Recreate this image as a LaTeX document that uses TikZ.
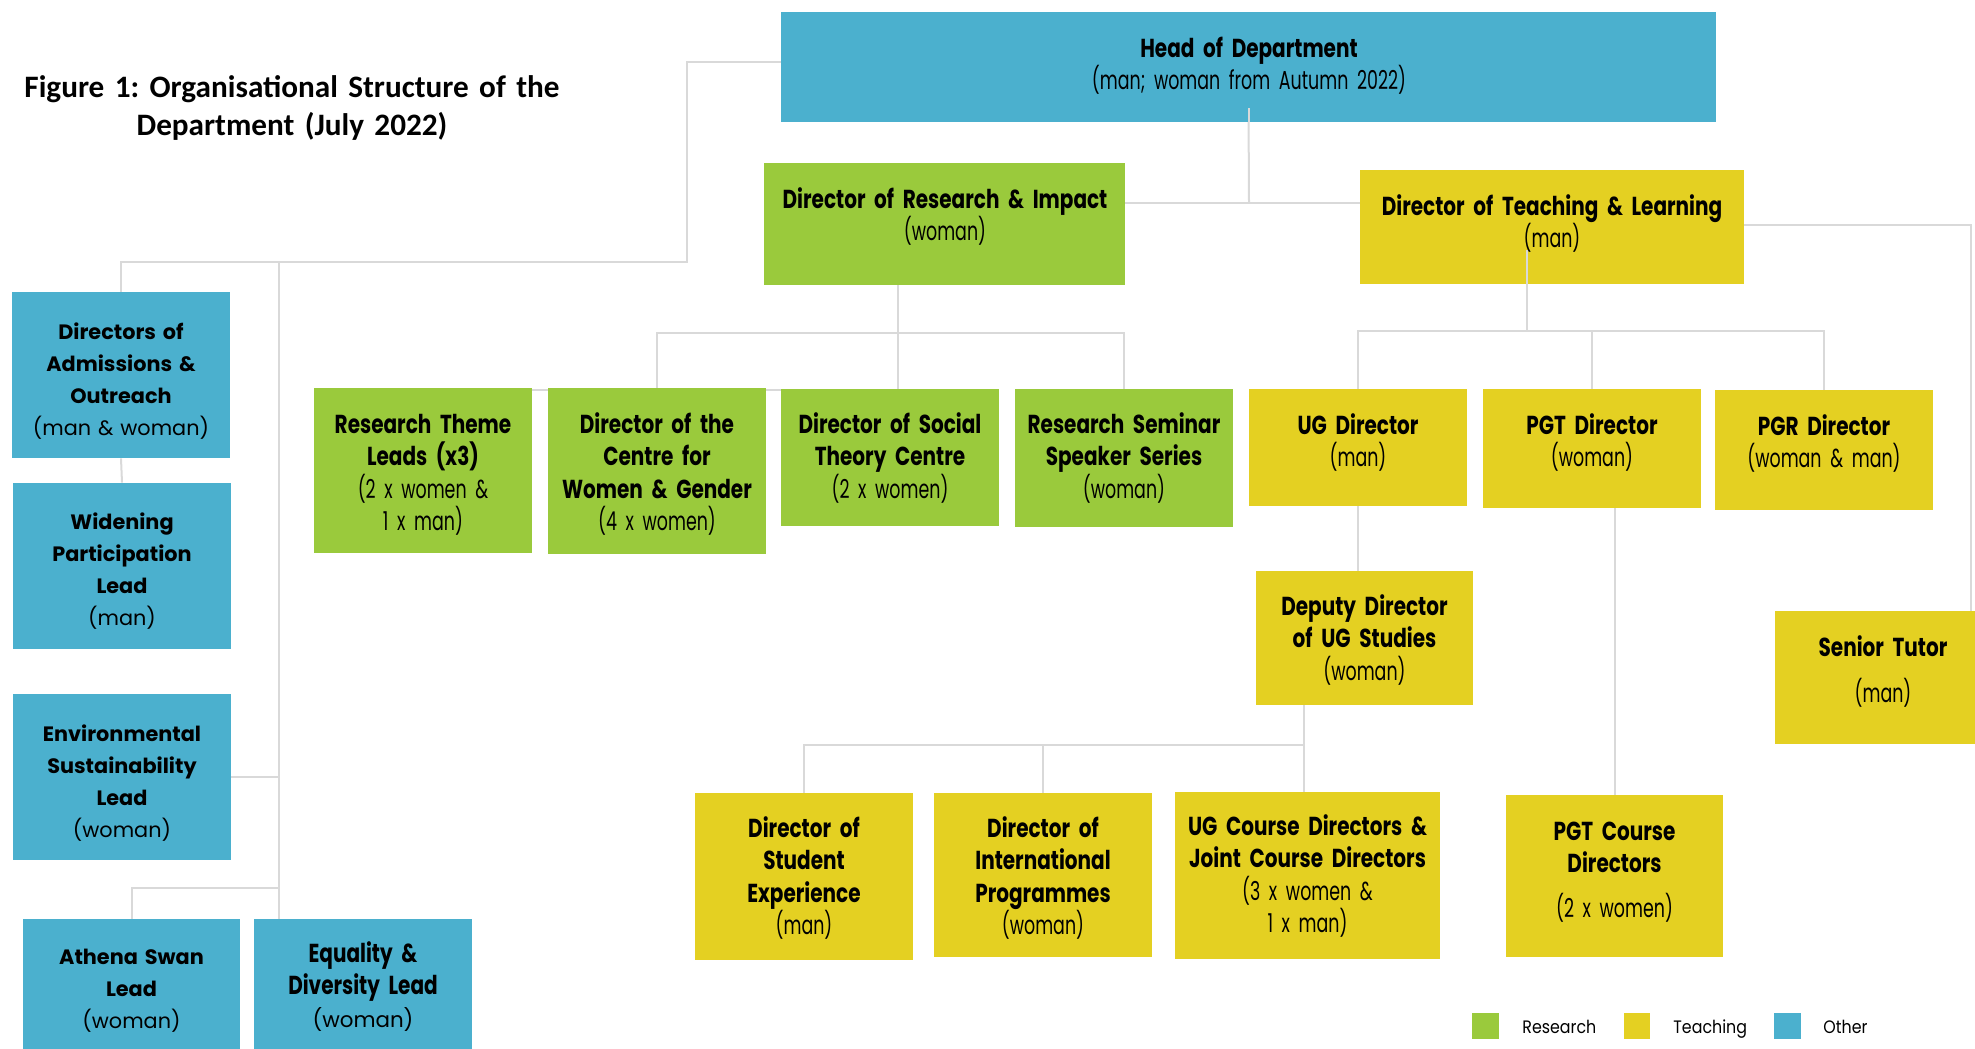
\documentclass[tikz,border=0pt]{standalone}
\usepackage{fontspec}
\usetikzlibrary{fit}
\frenchspacing
\newfontfamily\ctbf[FakeStretch=0.77]{Poppins}
\newfontfamily\ctrf[FakeStretch=0.67]{Poppins}
\newfontfamily\wdf{Poppins}
\newfontfamily\ttlf{Carlito}
\newfontfamily\lgdf[FakeStretch=0.88]{Poppins}
\newcommand\ctb{\ctbf\bfseries}
\newcommand\ctr{\ctrf\mdseries}
\newcommand\wdb{\wdf\bfseries}
\newcommand\wdr{\wdf\mdseries}
\definecolor{oth}{HTML}{4BB0CE}
\definecolor{res}{HTML}{9ACA3C}
\definecolor{tea}{HTML}{E4D022}
\definecolor{lnc}{HTML}{D9D9D9}
\tikzset{
  box/.style={fill=#1, draw=none, inner sep=0pt},
  conn/.style={draw=lnc, line width=1pt},
  bt/.style={anchor=base, align=center, text width=220pt, inner sep=0pt, font=\fontsize{13}{16.25}\selectfont},
  wt/.style={anchor=base, align=center, text width=220pt, inner sep=0pt, font=\fontsize{10.4}{16}\selectfont},
  lt/.style={anchor=base west, inner sep=0pt, font=\lgdf\fontsize{9}{11}\selectfont},
}
\begin{document}
\begin{tikzpicture}[x=0.5pt, y=-0.5pt]
\useasboundingbox (0,0) rectangle (1975,1049);
% ---------- boxes (positions) ----------
\path
  node[box=oth, fit={(781,12) (1716,122)}] (head) {}
  node[box=res, fit={(764,163) (1125,285)}] (ri) {}
  node[box=tea, fit={(1360,170) (1744,284)}] (tl) {}
  node[box=oth, fit={(12,292) (230,458)}] (adm) {}
  node[box=oth, fit={(13,483) (231,649)}] (wid) {}
  node[box=oth, fit={(13,694) (231,860)}] (env) {}
  node[box=oth, fit={(23,919) (240,1060)}] (ath) {}
  node[box=oth, fit={(254,919) (472,1060)}] (eq) {}
  node[box=res, fit={(314,388) (532,553)}] (rtl) {}
  node[box=res, fit={(548,388) (766,554)}] (wg) {}
  node[box=res, fit={(781,389) (999,526)}] (stc) {}
  node[box=res, fit={(1015,389) (1233,527)}] (rss) {}
  node[box=tea, fit={(1249,389) (1467,506)}] (ug) {}
  node[box=tea, fit={(1483,389) (1701,508)}] (pgt) {}
  node[box=tea, fit={(1715,390) (1933,510)}] (pgr) {}
  node[box=tea, fit={(1256,571) (1473,705)}] (dep) {}
  node[box=tea, fit={(1775,611) (1991,744)}] (st) {}
  node[box=tea, fit={(695,793) (913,960)}] (se) {}
  node[box=tea, fit={(934,793) (1152,957)}] (intl) {}
  node[box=tea, fit={(1175,792) (1440,959)}] (ugc) {}
  node[box=tea, fit={(1506,795) (1723,957)}] (pgtc) {};
% ---------- connectors ----------
\coordinate (hl) at (687,62);
\coordinate (lb) at (279,262);
\coordinate (ab) at (279,888);
\coordinate (hj) at (1249,203);
\coordinate (rb) at (898,333);
\coordinate (tb) at (1527,331);
\coordinate (db) at (1304,745);
\coordinate (sj) at (1971,225);
\begin{scope}[conn]
\draw ([yshift=2.5pt]head.west) -- (hl) |- (lb) -| (adm.north);
\draw (lb) -- (lb |- eq.north);
\draw (env.east) -- (env.east -| lb);
\draw (ab) -| (ath.north);
\draw (adm.south) -- (wid.north);
\draw ([yshift=7pt]head.south) -- (hj);
\draw (ri.east |- hj) -- (tl.west |- hj);
\draw (ri.south -| rb) -- (rb |- stc.north);
\draw (wg.north) |- (rss.north |- rb) -- (rss.north);
\draw ([yshift=-1pt]rtl.north east) -- ([yshift=-1pt]stc.north west |- rtl.north east);
\draw ([yshift=17pt]tl.south -| tb) -- (tb);
\draw (ug.north) |- (pgr.north |- tb) -- (pgr.north);
\draw (pgt.north) -- (pgt.north |- tb);
\draw (ug.south) -- (ug.south |- dep.north);
\draw (dep.south -| db) -- (db |- ugc.north);
\draw (se.north) |- (db);
\draw (intl.north) -- (intl.north |- db);
\draw (pgt.south -| pgtc.north) -- (pgtc.north);
\draw (tl.east |- sj) -- (sj) -- (sj |- st.north);
\end{scope}
% redraw boxes over connectors
\foreach \n/\c in {head/oth,ri/res,tl/tea,adm/oth,wid/oth,env/oth,ath/oth,eq/oth,rtl/res,wg/res,stc/res,rss/res,ug/tea,pgt/tea,pgr/tea,dep/tea,st/tea,se/tea,intl/tea,ugc/tea,pgtc/tea}
  \fill[\c] (\n.north west) rectangle (\n.south east);
% small overlaps of connectors on boxes as in the original
\draw[conn] ([yshift=7pt]head.south) -- (head.south);
\draw[conn] ([yshift=17pt]tl.south -| tb) -- (tl.south -| tb);
% ---------- title ----------
\node[anchor=base, align=center, text width=300pt, inner sep=0pt, font=\ttlf\bfseries\fontsize{15.6}{19}\selectfont] (title) at (292,97) {Figure 1: Organisational Structure of the\\Department (July 2022)};
% ---------- texts ----------
\node[bt] (head-t) at (1249,57) {\ctb Head of Department\\\ctr (man; woman from Autumn 2022)};
\node[bt] (ri-t) at (945,208) {\ctb Director of Research \& Impact\\\ctr (woman)};
\node[bt] (tl-t) at (1552,215) {\ctb Director of Teaching \& Learning\\\ctr (man)};
\node[bt] (rtl-t) at (423,433) {\ctb Research Theme\\Leads (x3)\\\ctr (2 x women \&\\1 x man)};
\node[bt] (wg-t) at (657,433) {\ctb Director of the\\Centre for\\Women \& Gender\\\ctr (4 x women)};
\node[bt] (stc-t) at (890,433) {\ctb Director of Social\\Theory Centre\\\ctr (2 x women)};
\node[bt] (rss-t) at (1124,433) {\ctb Research Seminar\\Speaker Series\\\ctr (woman)};
\node[bt] (ug-t) at (1358,434) {\ctb UG Director\\\ctr (man)};
\node[bt] (pgt-t) at (1592,434) {\ctb PGT Director\\\ctr (woman)};
\node[bt] (pgr-t) at (1824,435) {\ctb PGR Director\\\ctr (woman \& man)};
\node[bt] (dep-t) at (1364.5,615) {\ctb Deputy Director\\of UG Studies\\\ctr (woman)};
\node[bt] (st-t) at (1883,656) {\ctb Senior Tutor\\[6.75pt]\ctr (man)};
\node[bt] (se-t) at (804,837) {\ctb Director of\\Student\\Experience\\\ctr (man)};
\node[bt] (intl-t) at (1043,837) {\ctb Director of\\International\\Programmes\\\ctr (woman)};
\node[bt] (ugc-t) at (1307.5,835) {\ctb UG Course Directors \&\\Joint Course Directors\\\ctr (3 x women \&\\1 x man)};
\node[bt] (pgtc-t) at (1614.5,840) {\ctb PGT Course\\Directors\\[6.25pt]\ctr (2 x women)};
\node[wt] (adm-t) at (121,339) {\wdb Directors of\\Admissions \&\\Outreach\\\wdr (man \& woman)};
\node[wt] (wid-t) at (122,529) {\wdb Widening\\Participation\\Lead\\\wdr (man)};
\node[wt] (env-t) at (122,741) {\wdb Environmental\\Sustainability\\Lead\\\wdr (woman)};
\node[wt] (ath-t) at (131.5,964) {\wdb Athena Swan\\Lead\\\wdr (woman)};
\node[bt] (eq-t) at (363,962) {\ctb Equality \&\\Diversity Lead\\\fontsize{10.7}{16.25}\wdr (woman)};
% ---------- legend ----------
\node[box=res, fit={(1472,1013) (1499,1039)}] (lg1) {};
\node[box=tea, fit={(1624,1013) (1650,1039)}] (lg2) {};
\node[box=oth, fit={(1774,1013) (1801,1039)}] (lg3) {};
\node[lt] (lg1-t) at (1522,1033) {Research};
\node[lt] (lg2-t) at (1673,1033) {Teaching};
\node[lt] (lg3-t) at (1823,1033) {Other};
\end{tikzpicture}
\end{document}
